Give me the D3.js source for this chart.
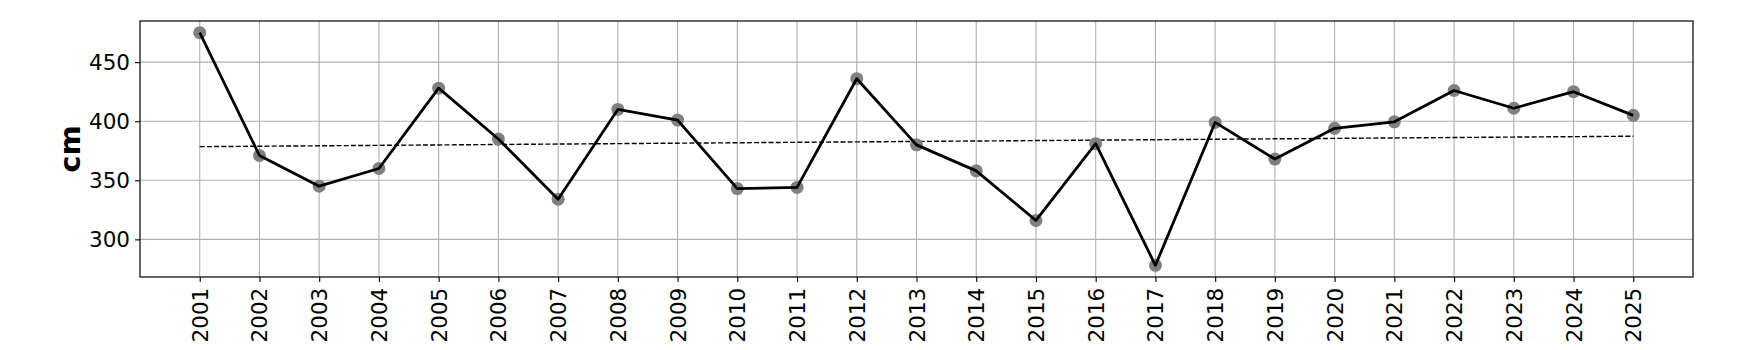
<!DOCTYPE html>
<html>
<head>
<meta charset="utf-8">
<script src="https://cdn.jsdelivr.net/npm/d3@7"></script>
<style>
  html, body { margin: 0; padding: 0; background: #fff; }
  svg { display: block; font-family: "DejaVu Sans", sans-serif; }
</style>
</head>
<body>
<svg id="chart" width="1745" height="350"></svg>
<script>
// ── Data ─────────────────────────────────────────────────────────────────────

const years  = [2001, 2002, 2003, 2004, 2005, 2006, 2007, 2008, 2009, 2010, 2011, 2012, 2013,
                2014, 2015, 2016, 2017, 2018, 2019, 2020, 2021, 2022, 2023, 2024, 2025];
const values = [475, 371, 345, 360, 428, 385, 334, 410, 401, 343, 344, 436, 380,
                358, 316, 381, 278, 399, 368, 394, 399.5, 426, 411, 425, 405];
const yTicks = [300, 350, 400, 450];
const yLabel = "cm";

// ── Layout ───────────────────────────────────────────────────────────────────

const W = 1745, H = 350;
const M = { top: 21, right: 52, bottom: 73, left: 140 };
const iW = W - M.left - M.right;
const iH = H - M.top - M.bottom;

// matplotlib-style 5% margin on y
const [lo, hi] = d3.extent(values);
const pad = (hi - lo) * 0.05;

const x = d3.scaleLinear().domain([years[0] - 1, years[years.length - 1] + 1]).range([0, iW]);
const y = d3.scaleLinear().domain([lo - pad, hi + pad]).range([iH, 0]);

// least-squares trend
const mx = d3.mean(years), my = d3.mean(values);
const slope = d3.sum(years, (d, i) => (d - mx) * (values[i] - my)) / d3.sum(years, d => (d - mx) ** 2);
const trend = years.map(d => my + slope * (d - mx));

const svg = d3.select("#chart");
const g = svg.append("g").attr("transform", `translate(${M.left},${M.top})`);

// Grid
g.append("g").selectAll("line").data(years).join("line")
  .attr("x1", d => x(d)).attr("x2", d => x(d))
  .attr("y1", 0).attr("y2", iH)
  .attr("stroke", "#b0b0b0").attr("stroke-width", 1.1);
g.append("g").selectAll("line").data(yTicks).join("line")
  .attr("x1", 0).attr("x2", iW)
  .attr("y1", d => y(d)).attr("y2", d => y(d))
  .attr("stroke", "#b0b0b0").attr("stroke-width", 1.1);

// Axes
const xAxis = g.append("g").attr("transform", `translate(0,${iH})`)
  .call(d3.axisBottom(x).tickValues(years).tickFormat(d3.format("d")).tickSize(5).tickPadding(6));
xAxis.selectAll("text")
  .attr("transform", "rotate(-90)")
  .attr("text-anchor", "end")
  .attr("dx", "-0.5em").attr("dy", "0")
  .attr("x", 0).attr("y", 0)
  .style("dominant-baseline", "central");

const yAxis = g.append("g")
  .call(d3.axisLeft(y).tickValues(yTicks).tickSize(5).tickPadding(5));

[xAxis, yAxis].forEach(a => {
  a.select(".domain").remove();
  a.selectAll("line").attr("stroke", "#000").attr("stroke-width", 1.1);
  a.selectAll("text").attr("fill", "#000").style("font-size", "21.5px")
    .style("font-family", "'DejaVu Sans', sans-serif");
});

// Frame
g.append("rect").attr("width", iW).attr("height", iH)
  .attr("fill", "none").attr("stroke", "#000").attr("stroke-width", 1.2);

// Trend line
g.append("path").datum(trend)
  .attr("fill", "none").attr("stroke", "#000").attr("stroke-width", 1.4)
  .attr("stroke-dasharray", "5,2.2")
  .attr("d", d3.line().x((d, i) => x(years[i])).y(d => y(d)));

// Markers
g.append("g").selectAll("circle").data(values).join("circle")
  .attr("cx", (d, i) => x(years[i])).attr("cy", d => y(d))
  .attr("r", 6.5).attr("fill", "#808080");

// Line
g.append("path").datum(values)
  .attr("fill", "none").attr("stroke", "#000").attr("stroke-width", 2.8)
  .attr("stroke-linejoin", "round")
  .attr("d", d3.line().x((d, i) => x(years[i])).y(d => y(d)));

// Y label
svg.append("text")
  .attr("transform", `translate(80,${M.top + iH / 2}) rotate(-90)`)
  .attr("text-anchor", "middle")
  .style("font-size", "29px").style("font-weight", "bold")
  .text(yLabel);
</script>
</body>
</html>
